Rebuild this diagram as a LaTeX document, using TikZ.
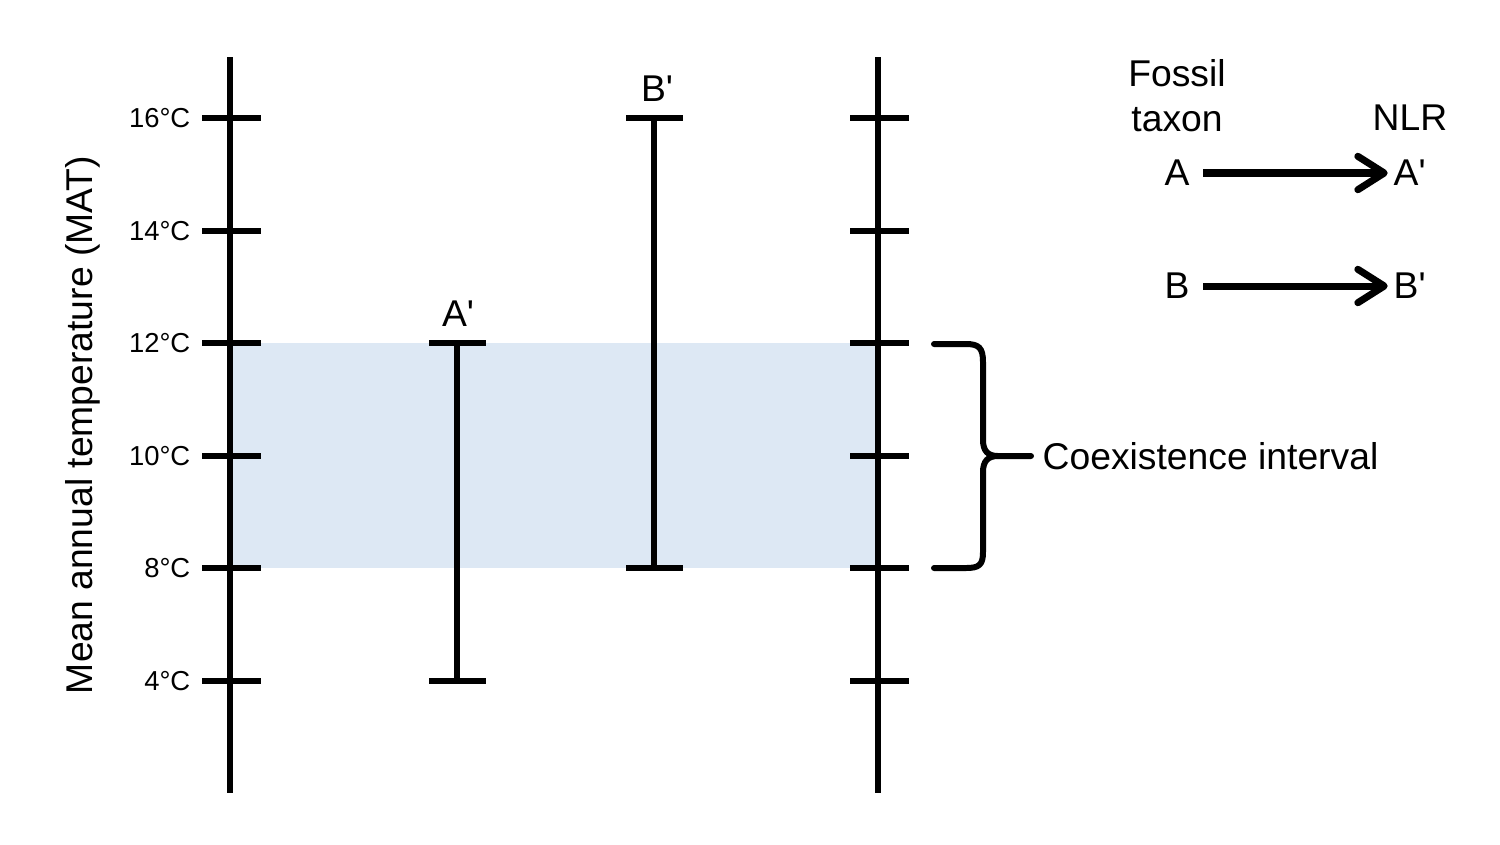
\documentclass[tikz,border=0pt]{standalone}
\usepackage{fontspec}
\setmainfont{Liberation Sans}
\usepackage{tikz}
\usetikzlibrary{arrows.meta}
\usepackage[dvipsnames,svgnames]{xcolor}
\definecolor{ShadeBlue}{RGB}{221,232,244}
\newcommand{\prm}{\textquotesingle}

\begin{document}
\begin{tikzpicture}[x=0.01cm,y=-0.01cm,
    axisline/.style={line width=1.9pt},
    tempbar/.style={line width=1.8pt},
    ticklab/.style={anchor=east,inner sep=0pt,font=\fontsize{7.8}{9}\selectfont},
    biglab/.style={inner sep=0pt,font=\fontsize{10.6}{12.8}\selectfont},
    legarrow/.style={line width=2pt,-{Straight Barb[round,length=7.5pt,width=9.5pt]}}]

    % Ukuran gambar
    \useasboundingbox (0,0) rectangle (1500,844);

    % Arsiran biru untuk selang koeksistensi (8 sampai 12 derajat)
    \fill[ShadeBlue] (230,343) rectangle (878,568);

    % Sumbu kiri dan kanan
    \draw[axisline] (230,57) -- (230,793);
    \draw[axisline] (878,57) -- (878,793);

    % Tanda dan label suhu pada kedua sumbu
    \foreach \t/\y in {16/118,14/231,12/343,10/456,8/568,4/681}{
        \draw[tempbar] (202,\y) -- (261,\y);
        \draw[tempbar] (850,\y) -- (909,\y);
        \node[ticklab] (t\t) at (191,\y) {\t\textdegree C};
    }

    % Label sumbu tegak
    \node[biglab,rotate=90] (ylab) at (83,425) {Mean annual temperature (MAT)};

    % Selang suhu A' (4 sampai 12 derajat)
    \draw[tempbar] (457,343) -- (457,681);
    \draw[tempbar] (429,343) -- (486,343);
    \draw[tempbar] (429,681) -- (486,681);
    \node[biglab] (barA) at (458,314) {A\prm};

    % Selang suhu B' (8 sampai 16 derajat)
    \draw[tempbar] (654,118) -- (654,568);
    \draw[tempbar] (626,118) -- (683,118);
    \draw[tempbar] (626,568) -- (683,568);
    \node[biglab] (barB) at (657,89) {B\prm};

    % Kurung kurawal untuk selang koeksistensi
    \coordinate (tip) at (1031,456);
    \draw[line width=1.7pt,line cap=round,line join=round]
        (934,344) -- (966,344) .. controls (979,344) and (983,348) .. (983,362)
        -- (983,440) .. controls (983,451) and (988,456) .. (998,456) -- (tip);
    \draw[line width=1.7pt,line cap=round,line join=round]
        (998,456) .. controls (988,456) and (983,461) .. (983,472)
        -- (983,552) .. controls (983,565) and (979,568) .. (966,568) -- (934,568);
    \node[biglab,anchor=west] (coex) at (1042,456) {Coexistence interval};

    % Keterangan: takson fosil ke NLR
    \node[biglab,align=center] (fossil) at (1177,96) {Fossil\\taxon};
    \node[biglab] (nlr) at (1410,118) {NLR};
    \node[biglab] (legA) at (1177,173) {A};
    \node[biglab,anchor=west] (legAp) at (1393,173) {A\prm};
    \node[biglab] (legB) at (1177,286) {B};
    \node[biglab,anchor=west] (legBp) at (1393,286) {B\prm};
    \draw[legarrow,shorten <=7.5pt,shorten >=1.5pt] (legA.center) -- (legAp.west);
    \draw[legarrow,shorten <=7.5pt,shorten >=1.5pt] (legB.center) -- (legBp.west);

\end{tikzpicture}
\end{document}
